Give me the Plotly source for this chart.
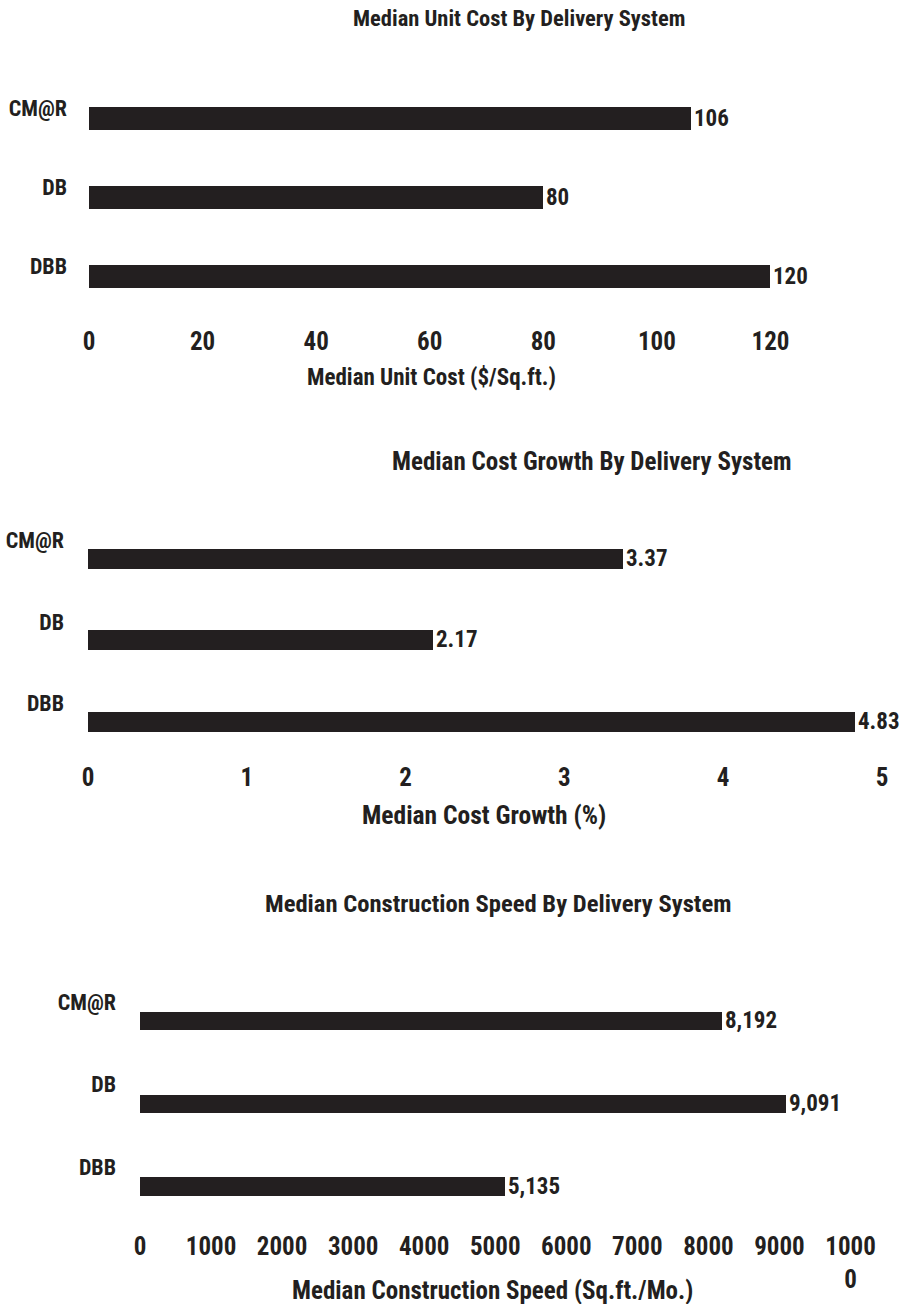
import plotly.graph_objects as go

# Delivery systems and their medians
categories = ["CM@R", "DB", "DBB"]
unit_cost = [106, 80, 120]
cost_growth = [3.37, 2.17, 4.83]
construction_speed = [8192, 9091, 5135]

# Axis ticks
unit_cost_ticks = [0, 20, 40, 60, 80, 100, 120]
cost_growth_ticks = [0, 1, 2, 3, 4, 5]
speed_ticks = [0, 1000, 2000, 3000, 4000, 5000, 6000, 7000, 8000, 9000, 10000]
speed_ticktext = ["0", "1000", "2000", "3000", "4000", "5000", "6000",
                  "7000", "8000", "9000", "1000<br>0"]

# Titles
titles = ["Median Unit Cost By Delivery System",
          "Median Cost Growth By Delivery System",
          "Median Construction Speed By Delivery System"]
axis_titles = ["Median Unit Cost ($/Sq.ft.)",
               "Median Cost Growth (%)",
               "Median Construction Speed (Sq.ft./Mo.)"]

W, H = 917, 1304
INK = "#231f20"
FONT = "Roboto Condensed, Open Sans Condensed, sans-serif"


def px_x(p):
    return p / W


def px_y(p):
    return 1 - p / H


# Layout of each panel in pixels: x domain, y domain (top, bottom), category range bottom
panels = [
    dict(values=unit_cost, fmt="%{x}", ticks=unit_cost_ticks, ticktext=[str(t) for t in unit_cost_ticks],
         xdom=(89, 775), xmax=120.8, ydom=(78.5, 315.5), ybottom=2.5, width=0.28,
         label_shift=10, label_standoff=21,
         title_xy=(519, 18), title_size=22.5, atitle_xy=(431, 377), atitle_size=23),
    dict(values=cost_growth, fmt="%{x:.2f}", ticks=cost_growth_ticks, ticktext=[str(t) for t in cost_growth_ticks],
         xdom=(88, 884), xmax=5.013, ydom=(517.75, 752.25), ybottom=2.377, width=0.245,
         label_shift=18, label_standoff=23,
         title_xy=(592, 461), title_size=25, atitle_xy=(484, 815), atitle_size=25.5),
    dict(values=construction_speed, fmt="%{x:,}", ticks=speed_ticks, ticktext=speed_ticktext,
         xdom=(140, 852), xmax=10021, ydom=(979.75, 1221.25), ybottom=2.427, width=0.224,
         label_shift=19, label_standoff=23,
         title_xy=(498, 903), title_size=24.6, atitle_xy=(493, 1290), atitle_size=25),
]

fig = go.Figure()
annotations = []

for i, p in enumerate(panels, start=1):
    xa = "x" if i == 1 else f"x{i}"
    ya = "y" if i == 1 else f"y{i}"
    fig.add_trace(go.Bar(
        x=p["values"], y=categories, orientation="h",
        xaxis=xa, yaxis=ya,
        marker=dict(color=INK, line=dict(width=0)),
        width=p["width"],
        texttemplate=p["fmt"], textposition="outside",
        textfont=dict(family=FONT, size=23, color=INK, weight="bold"),
        constraintext="none", cliponaxis=False,
        showlegend=False, hoverinfo="skip",
    ))
    key = "" if i == 1 else str(i)
    fig.update_layout(**{
        f"xaxis{key}": dict(
            domain=[px_x(p["xdom"][0]), px_x(p["xdom"][1])],
            range=[0, p["xmax"]], anchor=ya, automargin=False,
            tickmode="array", tickvals=p["ticks"], ticktext=p["ticktext"],
            showgrid=False, zeroline=False, showline=False, ticks="",
            tickfont=dict(family=FONT, size=25, color=INK, weight="bold"),
            ticklabelstandoff=8,
        ),
        f"yaxis{key}": dict(
            domain=[px_y(p["ydom"][1]), px_y(p["ydom"][0])],
            type="category", categoryorder="array", categoryarray=categories,
            range=[p["ybottom"], -0.5], anchor=xa, automargin=False,
            showgrid=False, zeroline=False, showline=False, ticks="",
            tickfont=dict(family=FONT, size=22, color=INK, weight="bold"),
            ticklabelstandoff=p["label_standoff"], ticklabelshift=p["label_shift"],
        ),
    })
    annotations.append(dict(
        text=titles[i - 1], xref="paper", yref="paper",
        x=px_x(p["title_xy"][0]), y=px_y(p["title_xy"][1]),
        xanchor="center", yanchor="middle", showarrow=False,
        font=dict(family=FONT, size=p["title_size"], color=INK, weight="bold"),
    ))
    annotations.append(dict(
        text=axis_titles[i - 1], xref="paper", yref="paper",
        x=px_x(p["atitle_xy"][0]), y=px_y(p["atitle_xy"][1]),
        xanchor="center", yanchor="middle", showarrow=False,
        font=dict(family=FONT, size=p["atitle_size"], color=INK, weight="bold"),
    ))

fig.update_layout(
    width=W, height=H,
    margin=dict(l=0, r=0, t=0, b=0),
    paper_bgcolor="white", plot_bgcolor="white",
    font=dict(family=FONT, color=INK),
    annotations=annotations,
    bargap=0,
)

fig.write_html("out.html")
